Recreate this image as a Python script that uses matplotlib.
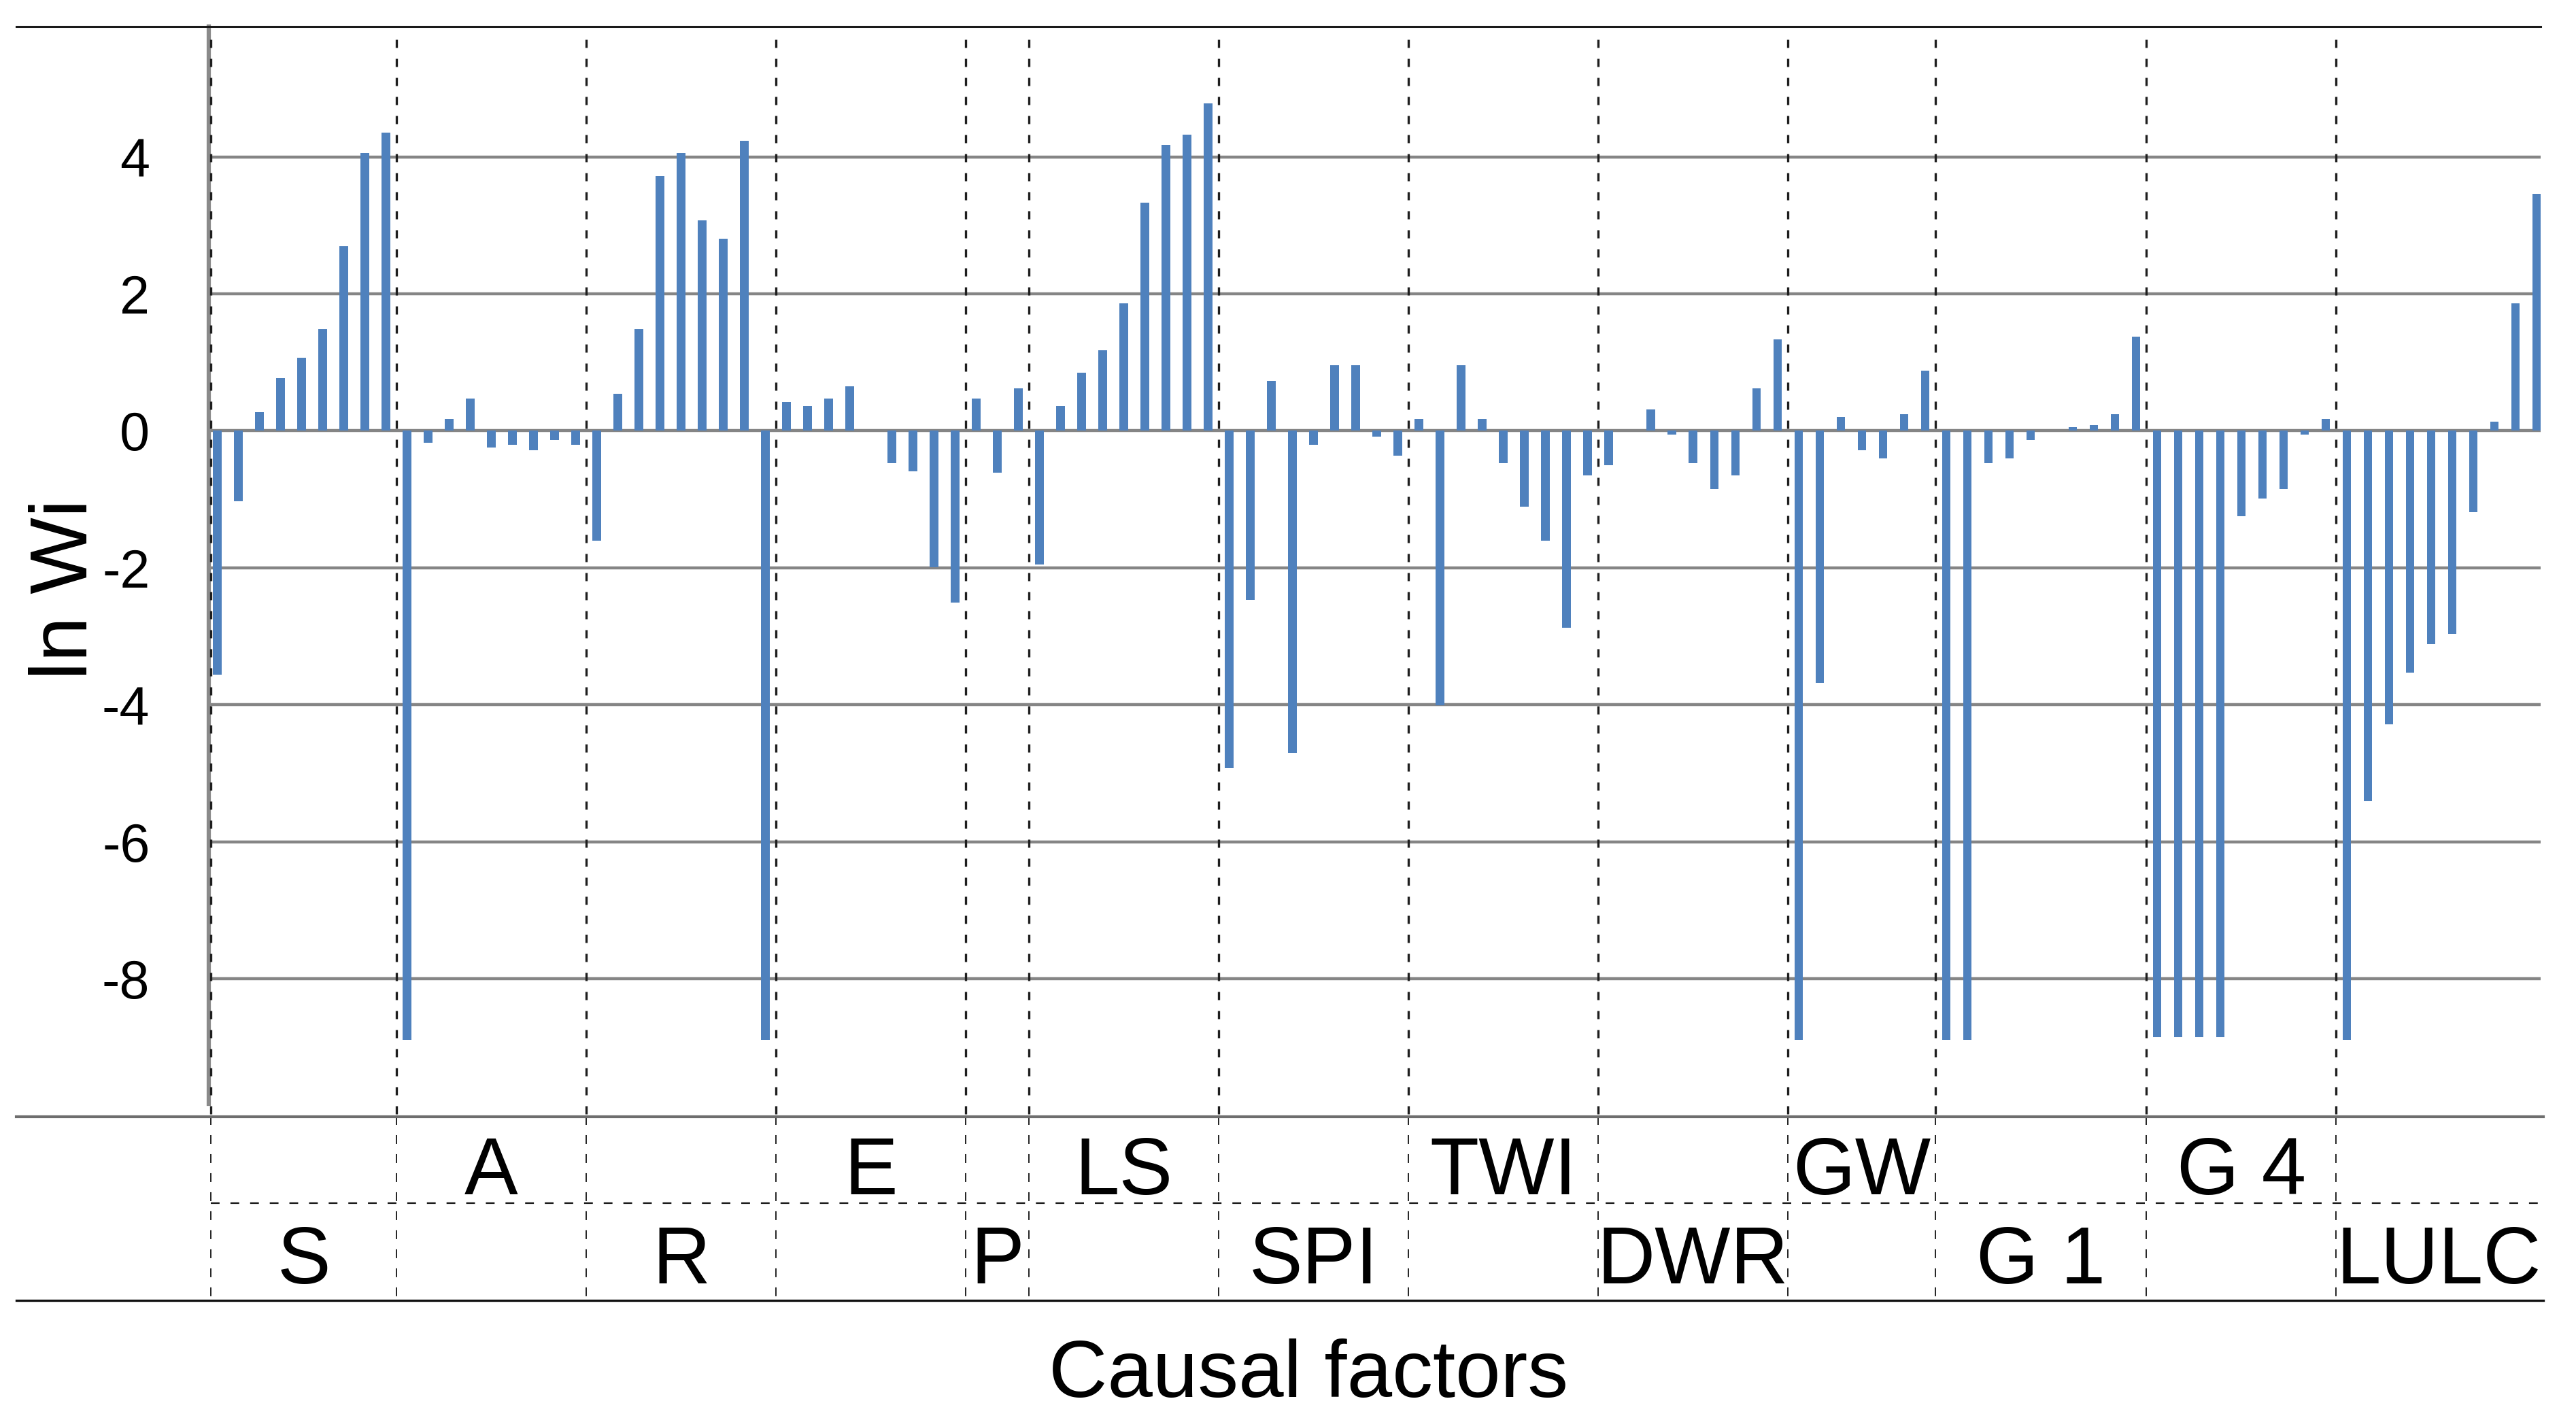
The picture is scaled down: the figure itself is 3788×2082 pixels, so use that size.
import matplotlib
matplotlib.use("Agg")
import matplotlib.pyplot as plt
import matplotlib.transforms as mtransforms
from matplotlib.lines import Line2D
import numpy as np

plt.rcParams["font.family"] = ["Liberation Sans", "DejaVu Sans"]
plt.rcParams["axes.unicode_minus"] = False

# ln Wi per class, one list per causal factor
S = [-3.56, -1.03, 0.27, 0.77, 1.07, 1.48, 2.70, 4.06, 4.36]
A = [-8.90, -0.17, 0.17, 0.47, -0.24, -0.20, -0.28, -0.13, -0.20]
R = [-1.60, 0.54, 1.48, 3.72, 4.06, 3.07, 2.81, 4.24, -8.90]
E = [0.42, 0.36, 0.47, 0.65, 0.0, -0.47, -0.59, -1.99, -2.51]
P = [0.47, -0.61, 0.62]
LS = [-1.95, 0.36, 0.85, 1.18, 1.86, 3.33, 4.18, 4.33, 4.78]
SPI = [-4.92, -2.47, 0.73, -4.70, -0.20, 0.96, 0.96, -0.08, -0.36]
TWI = [0.17, -4.01, 0.96, 0.17, -0.47, -1.11, -1.60, -2.88, -0.65]
DWR = [-0.50, 0.0, 0.31, -0.05, -0.47, -0.85, -0.65, 0.62, 1.34]
GW = [-8.90, -3.68, 0.20, -0.28, -0.40, 0.24, 0.88]
G1 = [-8.90, -8.90, -0.47, -0.40, -0.13, 0.0, 0.05, 0.08, 0.24, 1.38]
G4 = [-8.86, -8.86, -8.86, -8.86, -1.25, -0.99, -0.85, -0.05, 0.17]
LULC = [-8.90, -5.41, -4.29, -3.53, -3.11, -2.97, -1.19, 0.13, 1.86, 3.46]

factor_names = ["S", "A", "R", "E", "P", "LS", "SPI", "TWI", "DWR", "GW", "G 1", "G 4", "LULC"]
factor_values = [S, A, R, E, P, LS, SPI, TWI, DWR, GW, G1, G4, LULC]
y_ticks = [-8, -6, -4, -2, 0, 2, 4]

W, H = 3788, 2082


def fx(px):
    return px / W


def fy(px):
    return 1 - px / H


values = np.concatenate(factor_values)
xpos = np.arange(len(values))
counts = [len(v) for v in factor_values]
starts = np.concatenate([[0], np.cumsum(counts)[:-1]])
dividers = starts - 0.5
dividers[0] = -0.3  # first divider hugs the y axis
x_left, x_right = -0.42, 110.2

fig = plt.figure(figsize=(W / 100, H / 100), dpi=100)
ax = fig.add_axes([fx(306.5), fy(1623), fx(3736 - 306.5), (1623 - 39) / H])

ax.bar(xpos, values, width=0.4, color="#4F81BD", zorder=3)

ax.set_xlim(x_left, x_right)
ax.set_ylim(-9.829, 5.905)
ax.set_yticks(y_ticks)
ax.set_yticklabels([str(t) for t in y_ticks])
ax.set_xticks([])
ax.tick_params(axis="y", length=0, labelsize=57, pad=62)
ax.yaxis.grid(True, color="#858585", lw=3.2)
ax.set_axisbelow(True)
for side in ["top", "right", "bottom"]:
    ax.spines[side].set_visible(False)
ax.spines["left"].set_color("#8a8a8a")
ax.spines["left"].set_linewidth(4.5)

trans = mtransforms.blended_transform_factory(ax.transData, fig.transFigure)

# group dividers in the chart and in the label table
for d in dividers:
    ax.add_line(Line2D([d, d], [fy(58), fy(1641)], transform=trans, color="#1e1e1e",
                       lw=2.4, ls=(0, (3.6, 4.8)), clip_on=False, zorder=4))
    ax.add_line(Line2D([d, d], [fy(1641), fy(1918)], transform=trans, color="#111111",
                       lw=1.3, ls=(0, (7.2, 8.3)), clip_on=False))

# frame lines
fig.add_artist(Line2D([fx(24), fx(3736)], [fy(39), fy(39)], color="#1a1a1a", lw=2.2))
fig.add_artist(Line2D([fx(24), fx(3740)], [fy(1641.7), fy(1641.7)], color="#6e6e6e", lw=3.0))
fig.add_artist(Line2D([fx(310), fx(3740)], [fy(1769), fy(1769)], color="#111111", lw=1.6,
                      ls=(0, (5.8, 7.2))))
fig.add_artist(Line2D([fx(24), fx(3740)], [fy(1911.7), fy(1911.7)], color="#111111", lw=2.4))

# factor labels, alternating between the two table rows
bounds = list(dividers) + [x_right]
for k, name in enumerate(factor_names):
    xc = (bounds[k] + bounds[k + 1]) / 2
    base = 1887 if k % 2 == 0 else 1756
    ax.text(xc, fy(base), name, transform=trans, ha="center", va="baseline",
            fontsize=85, clip_on=False)

fig.text(fx(98), fy(866), "ln Wi", rotation=90, ha="center", va="center", fontsize=86)
fig.text(fx(1924), fy(2054), "Causal factors", ha="center", va="baseline", fontsize=86)

fig.savefig("out.png", dpi=100)
